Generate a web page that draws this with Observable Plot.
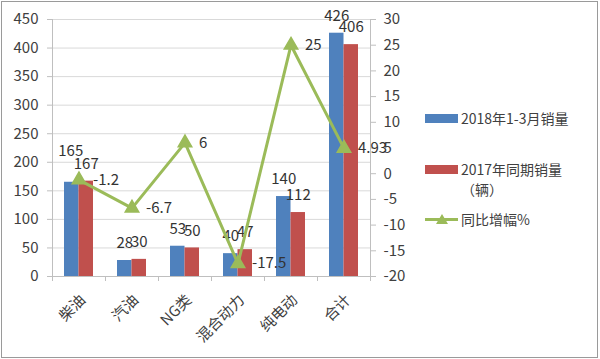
<!DOCTYPE html>
<html><head><meta charset="utf-8">
<script src="https://cdn.jsdelivr.net/npm/d3@7"></script>
<script src="https://cdn.jsdelivr.net/npm/@observablehq/plot@0.6"></script>
<style>
html,body{margin:0;padding:0;background:#fff;}
#wrap{position:relative;width:600px;height:359px;overflow:hidden;background:#fff;}
#frame{position:absolute;left:1px;top:1px;width:597px;height:357px;border:1px solid #9a9a9a;box-sizing:border-box;pointer-events:none;}
.lg{position:absolute;font-family:"Noto Sans CJK SC","Noto Sans",sans-serif;font-size:14px;color:#404040;line-height:20px;white-space:nowrap;}
.sw{position:absolute;}
</style></head>
<body><div id="wrap"><div id="frame"></div></div>
<script>
const categories = ["柴油", "汽油", "NG类", "混合动力", "纯电动", "合计"];
const sales2018 = [165, 28, 53, 40, 140, 426];
const sales2017 = [167, 30, 50, 47, 112, 406];
const growth = [-1.2, -6.7, 6, -17.5, 25, 4.93];
const leftTicks = [0, 50, 100, 150, 200, 250, 300, 350, 400, 450];
const rightTicks = [-20, -15, -10, -5, 0, 5, 10, 15, 20, 25, 30];
const seriesNames = ["2018年1-3月销量", "2017年同期销量", "（辆）", "同比增幅%"];

const colors = {s2018: "#4F81BD", s2017: "#C0504D", growth: "#9BBB59"};
const yMax = 450, rMin = -20, rMax = 30;
const k = yMax / (rMax - rMin);
const toLeft = v => (v - rMin) * k;

const rows = categories.map((c, i) => ({c, i, a: sales2018[i], b: sales2017[i], g: growth[i]}));

const mL = 52, mR = 230, W = 600, H = 359;
const step = (W - mL - mR) / categories.length;
const pInner = 0.453;
const bw = step * (1 - pInner);
const font = '"Noto Sans CJK SC","Noto Sans",sans-serif';

const chart = Plot.plot({
  width: W, height: H,
  marginLeft: mL, marginRight: mR, marginTop: 19, marginBottom: 83,
  x: {domain: categories, paddingInner: pInner, paddingOuter: pInner / 2, axis: null},
  y: {domain: [0, yMax], axis: null},
  style: {fontFamily: font, fontSize: "14px", color: "#404040", background: "transparent"},
  marks: [
    Plot.ruleY(leftTicks.slice(1), {stroke: "#d9d9d9", strokeWidth: 1}),
    Plot.ruleY([0], {stroke: "#bfbfbf"}),
    Plot.ruleX([categories[0]], {x: d => d, dx: -step / 2, stroke: "#bfbfbf", insetBottom: -5}),
    Plot.ruleX(categories, {x: d => d, y1: 0, y2: 0, dx: step / 2, stroke: "#bfbfbf", insetBottom: -5}),
    Plot.ruleX(categories.slice(-1), {x: d => d, dx: step / 2, stroke: "#bfbfbf"}),
    Plot.axisY(leftTicks, {anchor: "left", tickSize: 5, tickPadding: 9, stroke: "#bfbfbf", fill: "#404040", fontSize: 15}),
    Plot.axisY(rightTicks.map(toLeft), {anchor: "right", tickSize: 5, tickPadding: 8, stroke: "#bfbfbf", fill: "#404040", fontSize: 15,
      tickFormat: d => String(Math.round(d / k + rMin))}),
    Plot.barY(rows, {x: "c", y: "a", fill: colors.s2018, insetRight: bw / 2}),
    Plot.barY(rows, {x: "c", y: "b", fill: colors.s2017, insetLeft: bw / 2}),
    Plot.text(rows, {filter: d => d.i > 0, x: "c", y: "a", text: d => String(d.a), dx: -bw / 4, dy: -17, fontSize: 15, fill: "#333"}),
    Plot.text(rows, {filter: d => d.i === 0, x: "c", y: "a", text: d => String(d.a), dx: -bw / 4 - 1, dy: -31, fontSize: 15, fill: "#333"}),
    Plot.text(rows, {x: "c", y: "b", text: d => String(d.b), dx: bw / 4, dy: -17, fontSize: 15, fill: "#333"}),
    Plot.line(rows, {x: "c", y: d => toLeft(d.g), stroke: colors.growth, strokeWidth: 3}),
    Plot.dot(rows, {x: "c", y: d => toLeft(d.g), symbol: "triangle", r: 5, fill: colors.growth, stroke: colors.growth}),
    Plot.text(rows, {x: "c", y: d => toLeft(d.g), text: d => String(d.g), textAnchor: "start", dx: 14, fontSize: 15, fill: "#333"}),
    Plot.text(categories, {x: d => d, y: 0, text: d => d, rotate: -45, textAnchor: "end", dx: 4, dy: 21, fontSize: 15, fill: "#404040"})
  ]
});
const wrap = document.getElementById("wrap");
chart.style.position = "absolute";
chart.style.left = "0px";
chart.style.top = "0px";
wrap.appendChild(chart);

function sw(left, top, w, h, color) {
  const d = document.createElement("div");
  d.className = "sw";
  Object.assign(d.style, {left: left + "px", top: top + "px", width: w + "px", height: h + "px", background: color});
  wrap.appendChild(d);
}
function lg(left, top, text) {
  const d = document.createElement("div");
  d.className = "lg";
  d.style.left = left + "px";
  d.style.top = top + "px";
  d.textContent = text;
  wrap.appendChild(d);
}
sw(425, 114, 33, 9, colors.s2018);
lg(461, 108, seriesNames[0]);
sw(425, 165, 33, 9, colors.s2017);
lg(461, 159, seriesNames[1]);
lg(461, 179, seriesNames[2]);
sw(425, 218, 33, 3, colors.growth);
const tri = document.createElementNS("http://www.w3.org/2000/svg", "svg");
tri.setAttribute("width", "14"); tri.setAttribute("height", "12");
Object.assign(tri.style, {position: "absolute", left: "435px", top: "213px"});
tri.innerHTML = '<path d="M7,1 L13,11 L1,11 Z" fill="' + colors.growth + '"/>';
wrap.appendChild(tri);
lg(461, 209, seriesNames[3]);
document.getElementById("wrap").appendChild(document.getElementById("frame"));
</script>
</body></html>
